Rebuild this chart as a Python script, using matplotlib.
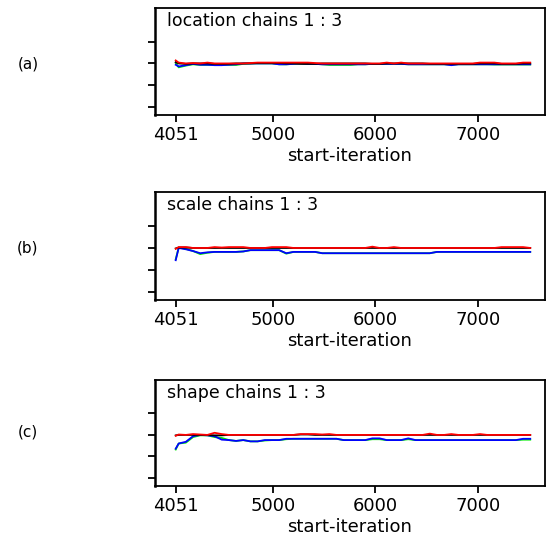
import matplotlib.pyplot as plt
import numpy as np

# start iterations of the diagnostic
iters = [4051, 4080] + list(range(4150, 7520, 70))

panel_labels = ["(a)", "(b)", "(c)"]
titles = ["location chains 1 : 3", "scale chains 1 : 3", "shape chains 1 : 3"]
xticks = [4051, 5000, 6000, 7000]

red_a = [1.07, 1.02, 1.00, 1.01, 1.00, 1.02, 1.00, 1.00, 1.00, 1.00,
         1.00, 1.01, 1.02, 1.02, 1.02, 1.02, 1.02, 1.02, 1.02, 1.02,
         1.01, 1.00, 1.00, 1.00, 1.00, 1.00, 1.00, 1.00, 1.00, 1.00,
         1.02, 1.00, 1.02, 1.00, 1.00, 1.00, 1.00, 1.00, 1.00, 1.00,
         1.00, 1.00, 1.00, 1.02, 1.02, 1.02, 1.00, 1.00, 1.00, 1.02,
         1.02]
black_a = [1.03, 1.00, 0.99, 1.00, 1.00, 1.00, 0.99, 0.99, 0.99, 1.00,
           1.00, 1.00, 1.01, 1.01, 1.01, 1.01, 1.00, 1.00, 0.99, 0.99,
           0.99, 1.00, 1.00, 1.00, 1.00, 1.00, 1.00, 1.00, 0.99, 0.99,
           1.00, 1.00, 1.00, 1.00, 1.00, 1.00, 0.99, 0.99, 0.99, 0.99,
           0.99, 0.99, 0.99, 1.00, 1.00, 1.00, 0.99, 0.99, 0.99, 1.00,
           1.00]
blue_a = [0.97, 0.93, 0.96, 0.99, 0.97, 0.97, 0.96, 0.96, 0.97, 0.98,
          1.00, 1.00, 1.00, 1.00, 1.00, 0.98, 0.98, 0.99, 1.00, 0.99,
          0.99, 0.98, 0.98, 0.98, 0.98, 0.98, 0.98, 0.98, 0.99, 0.99,
          0.99, 0.99, 0.99, 0.98, 0.98, 0.98, 0.98, 0.98, 0.98, 0.96,
          0.98, 0.98, 0.98, 0.98, 0.98, 0.98, 0.98, 0.98, 0.98, 0.98,
          0.98]
green_a = [1.01, 0.91, 0.95, 0.98, 0.965, 0.965, 0.965, 0.965, 0.965, 0.965,
           0.99, 1.00, 1.00, 1.00, 1.00, 0.98, 0.98, 0.99, 1.00, 0.99,
           0.99, 0.98, 0.965, 0.965, 0.965, 0.965, 0.98, 0.98, 0.99, 0.99,
           0.99, 0.99, 0.99, 0.98, 0.98, 0.98, 0.98, 0.98, 0.98, 0.97,
           0.98, 0.98, 0.98, 0.98, 0.98, 0.975, 0.975, 0.975, 0.975, 0.975,
           0.975]

red_b = [0.98, 1.02, 1.02, 1.00, 1.00, 1.00, 1.02, 1.01, 1.02, 1.02,
         1.02, 1.00, 1.00, 1.00, 1.02, 1.02, 1.02, 1.00, 1.00, 1.00,
         1.00, 1.00, 1.00, 1.00, 1.00, 1.00, 1.00, 1.00, 1.03, 1.00,
         1.00, 1.02, 1.00, 1.00, 1.00, 1.00, 1.00, 1.00, 1.00, 1.00,
         1.00, 1.00, 1.00, 1.00, 1.00, 1.00, 1.02, 1.02, 1.02, 1.02,
         1.00]
black_b = [0.99, 1.01, 1.01, 1.00, 1.00, 1.00, 1.00, 1.00, 1.00, 1.00,
           1.00, 1.00, 1.00, 1.00, 1.00, 1.00, 1.00, 1.00, 1.00, 1.00,
           1.00, 1.00, 1.00, 1.00, 1.00, 1.00, 1.00, 1.00, 1.00, 1.00,
           1.00, 1.00, 1.00, 1.00, 1.00, 1.00, 1.00, 1.00, 1.00, 1.00,
           1.00, 1.00, 1.00, 1.00, 1.00, 1.00, 1.00, 1.00, 1.00, 1.00,
           1.00]
blue_b = [0.72, 1.00, 0.97, 0.93, 0.88, 0.90, 0.91, 0.91, 0.91, 0.91,
          0.92, 0.95, 0.95, 0.95, 0.95, 0.95, 0.88, 0.91, 0.91, 0.91,
          0.91, 0.88, 0.88, 0.88, 0.88, 0.88, 0.88, 0.88, 0.88, 0.88,
          0.88, 0.88, 0.88, 0.88, 0.88, 0.88, 0.88, 0.91, 0.91, 0.91,
          0.91, 0.91, 0.91, 0.91, 0.91, 0.91, 0.91, 0.91, 0.91, 0.91,
          0.91]
green_b = [0.74, 1.01, 0.98, 0.93, 0.86, 0.89, 0.91, 0.91, 0.91, 0.91,
           0.92, 0.95, 0.95, 0.95, 0.95, 0.95, 0.87, 0.91, 0.91, 0.91,
           0.91, 0.88, 0.88, 0.88, 0.88, 0.88, 0.88, 0.88, 0.88, 0.88,
           0.88, 0.88, 0.88, 0.88, 0.88, 0.88, 0.88, 0.91, 0.91, 0.91,
           0.91, 0.91, 0.91, 0.91, 0.91, 0.91, 0.91, 0.91, 0.91, 0.91,
           0.91]

red_c = [0.98, 1.01, 1.00, 1.02, 1.01, 1.00, 1.05, 1.02, 1.00, 1.00,
         1.00, 1.00, 1.00, 1.00, 1.00, 1.00, 1.00, 1.00, 1.02, 1.02,
         1.02, 1.01, 1.02, 1.00, 1.00, 1.00, 1.00, 1.00, 1.00, 1.00,
         1.00, 1.00, 1.00, 1.00, 1.00, 1.00, 1.03, 1.00, 1.00, 1.02,
         1.00, 1.00, 1.00, 1.02, 1.00, 1.00, 1.00, 1.00, 1.00, 1.00,
         1.00]
black_c = [0.99, 1.00, 1.00, 1.00, 1.00, 1.00, 0.99, 0.99, 1.00, 1.00,
           1.00, 1.00, 1.00, 1.00, 1.00, 1.00, 1.00, 1.00, 1.01, 1.01,
           1.00, 1.00, 1.00, 1.00, 1.00, 1.00, 1.00, 1.00, 1.00, 1.00,
           1.00, 1.00, 1.00, 1.00, 1.00, 1.00, 1.00, 1.00, 1.00, 1.00,
           1.00, 1.00, 1.00, 1.00, 1.00, 1.00, 1.00, 1.00, 1.00, 1.00,
           1.00]
blue_c = [0.68, 0.80, 0.84, 0.97, 1.00, 0.99, 0.97, 0.89, 0.88, 0.86,
          0.88, 0.85, 0.85, 0.88, 0.88, 0.88, 0.91, 0.91, 0.91, 0.91,
          0.91, 0.91, 0.91, 0.91, 0.88, 0.88, 0.88, 0.88, 0.92, 0.92,
          0.88, 0.88, 0.88, 0.92, 0.88, 0.88, 0.88, 0.88, 0.88, 0.88,
          0.88, 0.88, 0.88, 0.88, 0.88, 0.88, 0.88, 0.88, 0.88, 0.91,
          0.91]
green_c = [0.66, 0.80, 0.82, 0.95, 0.99, 0.99, 0.95, 0.93, 0.88, 0.86,
           0.88, 0.85, 0.85, 0.87, 0.88, 0.88, 0.90, 0.91, 0.91, 0.91,
           0.91, 0.91, 0.91, 0.91, 0.88, 0.88, 0.88, 0.88, 0.90, 0.90,
           0.88, 0.88, 0.88, 0.90, 0.88, 0.88, 0.88, 0.88, 0.88, 0.88,
           0.88, 0.88, 0.88, 0.88, 0.88, 0.88, 0.88, 0.88, 0.88, 0.89,
           0.89]

panels = [
    (green_a, blue_a, black_a, red_a),
    (green_b, blue_b, black_b, red_b),
    (green_c, blue_c, black_c, red_c),
]

plt.rcParams["font.family"] = "DejaVu Sans"

fig = plt.figure(figsize=(5.47, 5.35), dpi=100)

# axes boxes in pixels: (top, bottom)
boxes = [(8, 115), (192, 300), (380, 486)]
label_y = [64, 248, 432]
W, H = 547.0, 535.0
left_px, right_px = 155, 545

for i, (top, bottom) in enumerate(boxes):
    ax = fig.add_axes([left_px / W, 1 - bottom / H,
                       (right_px - left_px) / W, (bottom - top) / H])
    green, blue, black, red = panels[i]
    ax.plot(iters, green, color="#00ee00", lw=1.3, zorder=2)
    ax.plot(iters, blue, color="#0000ff", lw=1.3, zorder=3)
    ax.plot(iters, black, color="black", lw=1.3, zorder=4)
    ax.plot(iters, red, color="#ff0000", lw=1.3, zorder=5)

    ax.set_xlim(3849, 7654)
    ax.set_ylim(-0.19, 2.28)
    ax.set_xticks(xticks)
    ax.set_xticklabels([str(t) for t in xticks], fontsize=13)
    ax.set_yticks([0.0, 0.5, 1.0, 1.5])
    ax.set_yticklabels([])
    ax.tick_params(direction="out", length=5, width=1.3, pad=3)
    for sp in ax.spines.values():
        sp.set_linewidth(1.3)
    ax.spines["left"].set_linewidth(1.8)

    ax.text(0.03, 0.965, titles[i], transform=ax.transAxes,
            ha="left", va="top", fontsize=12.5)
    ax.set_xlabel("start-iteration", fontsize=13, labelpad=2)

    fig.text(28 / W, 1 - label_y[i] / H, panel_labels[i],
             ha="center", va="center", fontsize=11)

plt.savefig("out.png", dpi=100)
plt.close()
